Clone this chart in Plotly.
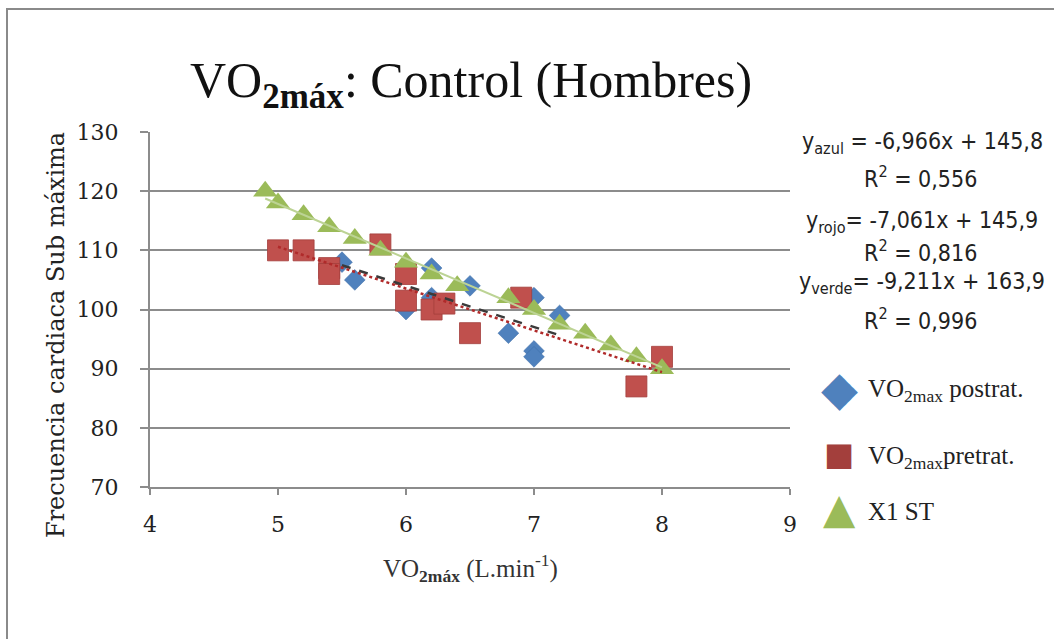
import plotly.graph_objects as go

W, H = 1054, 639

# VO2max post-treatment (blue diamonds)
post_x = [5.5, 5.6, 6.0, 6.2, 6.2, 6.5, 6.8, 7.0, 7.0, 7.0, 7.2]
post_y = [108, 105, 100, 107, 102, 104, 96, 102, 93, 92, 99]

# VO2max pre-treatment (red squares)
pre_x = [5.0, 5.2, 5.4, 5.4, 5.8, 6.0, 6.0, 6.2, 6.3, 6.5, 6.9, 7.8, 8.0]
pre_y = [110, 110, 107, 106, 111, 106, 101.5, 100, 101, 96, 102, 87, 92]

# X1 ST (green triangles)
st_x = [4.9, 5.0, 5.2, 5.4, 5.6, 5.8, 6.0, 6.2, 6.4, 6.8, 7.0, 7.2, 7.4, 7.6, 7.8, 8.0]
st_y = [120, 118, 116, 114, 112, 110, 108, 106, 104, 102, 100, 97.5, 96, 94, 92, 90]

# Linear fits: slope, intercept, R^2 (azul, rojo, verde)
fit_names = ["azul", "rojo", "verde"]
slopes = [-6.966, -7.061, -9.211]
intercepts = [145.8, 145.9, 163.9]
r_squared = [0.556, 0.816, 0.996]

x_ticks = [4, 5, 6, 7, 8, 9]
y_ticks = [70, 80, 90, 100, 110, 120, 130]

BLUE, RED, GREEN = "#4F81BD", "#C0504D", "#9BBB59"
SERIF = "Liberation Serif, Times New Roman, serif"
SLAB = "DejaVu Serif, serif"
SANS = "DejaVu Sans Condensed, Liberation Sans, Arial, sans-serif"


def px(x):
    return x / W


def py(y):
    return 1 - y / H


def fmt(v, nd):
    return f"{v:.{nd}f}".replace(".", ",")


def trend(xs, m, b):
    x0, x1 = min(xs), max(xs)
    return [x0, x1], [m * x0 + b, m * x1 + b]


fig = go.Figure()

fig.add_trace(go.Scatter(x=post_x, y=post_y, mode="markers", name="VO2max postrat.",
                         marker=dict(symbol="diamond", size=16, color=BLUE,
                                     line=dict(width=0.5, color="#3a6aa5"))))
fig.add_trace(go.Scatter(x=pre_x, y=pre_y, mode="markers", name="VO2max pretrat.",
                         marker=dict(symbol="square", size=21, color=RED,
                                     line=dict(width=0.8, color="#a33f3c"))))
fig.add_trace(go.Scatter(x=st_x, y=st_y, mode="markers", name="X1 ST",
                         marker=dict(symbol="triangle-up", size=21, color=GREEN,
                                     line=dict(width=0))))

# Trend lines from the fitted coefficients
tx, ty = trend(st_x, slopes[2], intercepts[2])
fig.add_trace(go.Scatter(x=tx, y=ty, mode="lines", line=dict(color="#bcd394", width=2)))
tx, ty = trend(post_x, slopes[0], intercepts[0])
fig.add_trace(go.Scatter(x=tx, y=ty, mode="lines", line=dict(color="#3a3a3a", width=2.5, dash="dash")))
tx, ty = trend(pre_x, slopes[1], intercepts[1])
fig.add_trace(go.Scatter(x=tx, y=ty, mode="lines", line=dict(color="#b02a2a", width=2.5, dash="dot")))

annotations = []

# Title
annotations.append(dict(text="VO<sub><b>2máx</b></sub>: Control (Hombres)", x=px(471), y=py(84),
                        xref="paper", yref="paper", xanchor="center", yanchor="middle",
                        showarrow=False, font=dict(family=SERIF, size=50, color="#111")))
# Axis titles
annotations.append(dict(text="Frecuencia cardiaca Sub máxima", x=px(56), y=py(335), textangle=-90,
                        xref="paper", yref="paper", xanchor="center", yanchor="middle",
                        showarrow=False, font=dict(family=SLAB, size=24, color="#222")))
annotations.append(dict(text="VO<sub><b>2máx</b></sub> (L.min<sup>-1</sup>)", x=px(470), y=py(568),
                        xref="paper", yref="paper", xanchor="center", yanchor="middle",
                        showarrow=False, font=dict(family=SERIF, size=25, color="#333")))

# Regression equations
eq_rows = [(143, 177), (222, 251), (283, 319)]
for i, name in enumerate(fit_names):
    sep = " = " if name == "azul" else "= "
    eq = f"y<sub>{name}</sub>{sep}{fmt(slopes[i], 3)}x + {fmt(intercepts[i], 1)}"
    annotations.append(dict(text=eq, x=px(922), y=py(eq_rows[i][0]), xref="paper", yref="paper",
                            xanchor="center", yanchor="middle", showarrow=False,
                            font=dict(family=SANS, size=23, color="#222")))
    annotations.append(dict(text=f"R<sup>2</sup> = {fmt(r_squared[i], 3)}", x=px(920), y=py(eq_rows[i][1]),
                            xref="paper", yref="paper", xanchor="center", yanchor="middle",
                            showarrow=False, font=dict(family=SANS, size=23, color="#222")))

# Legend
legend_rows = [("◆", BLUE, 48, "VO<sub>2max</sub> postrat.", 388),
               ("■", "#A33F3C", 32, "VO<sub>2max</sub>pretrat.", 454),
               ("▲", GREEN, 42, "X1 ST", 508)]
for glyph, col, gsize, label, yy in legend_rows:
    annotations.append(dict(text=glyph, x=px(839), y=py(yy), xref="paper", yref="paper",
                            xanchor="center", yanchor="middle", showarrow=False,
                            font=dict(family="DejaVu Sans", size=gsize, color=col)))
    annotations.append(dict(text=label, x=px(866), y=py(yy + 3), xref="paper", yref="paper",
                            xanchor="left", yanchor="middle", showarrow=False,
                            font=dict(family=SERIF, size=25, color="#222")))

# Outer frame
shapes = [dict(type="rect", xref="paper", yref="paper", x0=px(7), y0=py(9), x1=px(1070), y1=py(660),
               line=dict(color="#8a8a8a", width=2), fillcolor="rgba(0,0,0,0)", layer="below")]

fig.update_layout(
    width=W, height=H, autosize=False,
    margin=dict(l=0, r=0, t=0, b=0),
    paper_bgcolor="white", plot_bgcolor="white",
    showlegend=False,
    annotations=annotations,
    shapes=shapes,
    xaxis=dict(domain=[px(150), px(790)], range=[4, 9], tickvals=x_ticks,
               showgrid=False, zeroline=False, showline=True, linecolor="#8c8c8c", linewidth=2,
               ticks="outside", ticklen=6, tickwidth=2, tickcolor="#8c8c8c",
               ticklabelstandoff=11, automargin=False,
               tickfont=dict(family=SLAB, size=22, color="#222")),
    yaxis=dict(domain=[py(487), py(132)], range=[70, 130], tickvals=y_ticks,
               showgrid=True, gridcolor="#8c8c8c", gridwidth=2, zeroline=False,
               showline=True, linecolor="#8c8c8c", linewidth=2,
               ticks="outside", ticklen=8, tickwidth=2, tickcolor="#8c8c8c",
               ticklabelstandoff=17, automargin=False,
               tickfont=dict(family=SLAB, size=22, color="#222")),
)

fig.write_html("out.html")
